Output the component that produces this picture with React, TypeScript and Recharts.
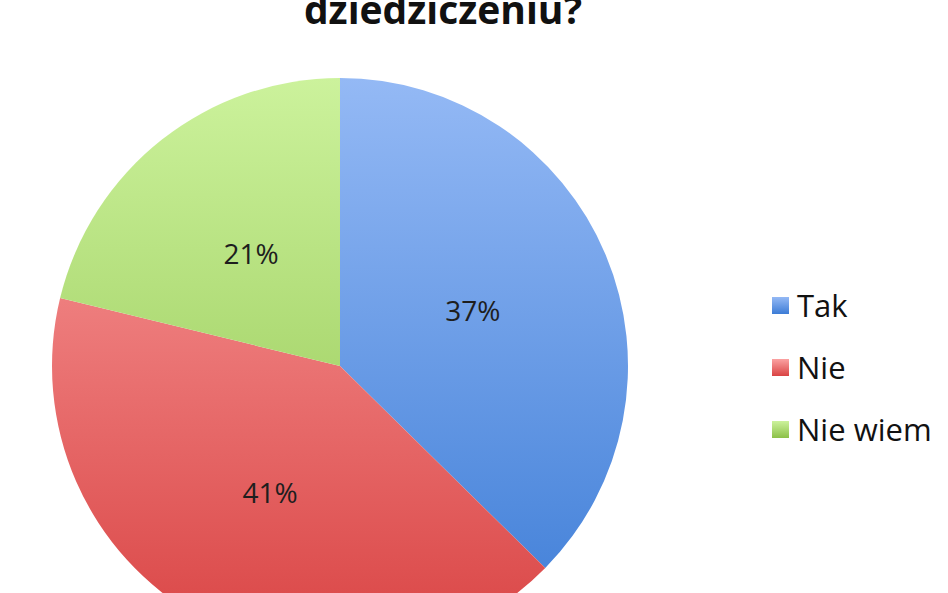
import { PieChart, Pie, Cell, Legend } from "recharts"

const categories = ["Tak", "Nie", "Nie wiem"]
const shares = [37, 41, 21]
const gradients = [
  ["#94b9f5", "#3c7cd6"],
  ["#fba2a2", "#d94343"],
  ["#ccf29c", "#8cc048"],
]

const data = categories.map((name, i) => ({ name, value: shares[i] }))

const RADIAN = Math.PI / 180
const FONT = "'Open Sans', sans-serif"

const renderLabel = ({ cx, cy, midAngle, outerRadius, value }) => {
  const r = outerRadius * 0.5
  const x = cx + r * Math.cos(-midAngle * RADIAN)
  const y = cy + r * Math.sin(-midAngle * RADIAN)
  return (
    <text
      x={x}
      y={y}
      fill="#1e1e1e"
      fontSize={28}
      textAnchor="middle"
      dominantBaseline="central"
      fontFamily={FONT}
    >
      {value}%
    </text>
  )
}

const LegendBox = () => (
  <div style={{ fontFamily: FONT, fontSize: 31, color: "#111" }}>
    {categories.map((c, i) => (
      <div key={c} style={{ display: "flex", alignItems: "center", height: 62 }}>
        <span
          style={{
            width: 17,
            height: 17,
            marginRight: 8,
            background: `linear-gradient(${gradients[i][0]}, ${gradients[i][1]})`,
          }}
        />
        {c}
      </div>
    ))}
  </div>
)

export default function App() {
  return (
    <div style={{ position: "absolute", top: 0, left: 0, width: 948, height: 593, background: "#fff", overflow: "hidden" }}>
      <PieChart width={948} height={593} margin={{ top: 0, right: 0, bottom: 0, left: 0 }}>
        <defs>
          {gradients.map((g, i) => (
            <linearGradient key={i} id={`grad${i}`} gradientUnits="userSpaceOnUse" x1="0" y1="78" x2="0" y2="654">
              <stop offset="0%" stopColor={g[0]} />
              <stop offset="100%" stopColor={g[1]} />
            </linearGradient>
          ))}
        </defs>
        <text x={443} y={24} textAnchor="middle" fontSize={39} fontWeight="bold" fontFamily={FONT} fill="#111">
          dziedziczeniu?
        </text>
        <Pie
          data={data}
          dataKey="value"
          nameKey="name"
          cx={340}
          cy={366}
          outerRadius={288}
          startAngle={90}
          endAngle={-270}
          stroke="none"
          label={renderLabel}
          labelLine={false}
          isAnimationActive={false}
        >
          {data.map((d, i) => (
            <Cell key={d.name} fill={`url(#grad${i})`} />
          ))}
        </Pie>
        <Legend
          content={<LegendBox />}
          wrapperStyle={{ position: "absolute", left: 772, top: 274, width: 176 }}
        />
      </PieChart>
    </div>
  )
}
